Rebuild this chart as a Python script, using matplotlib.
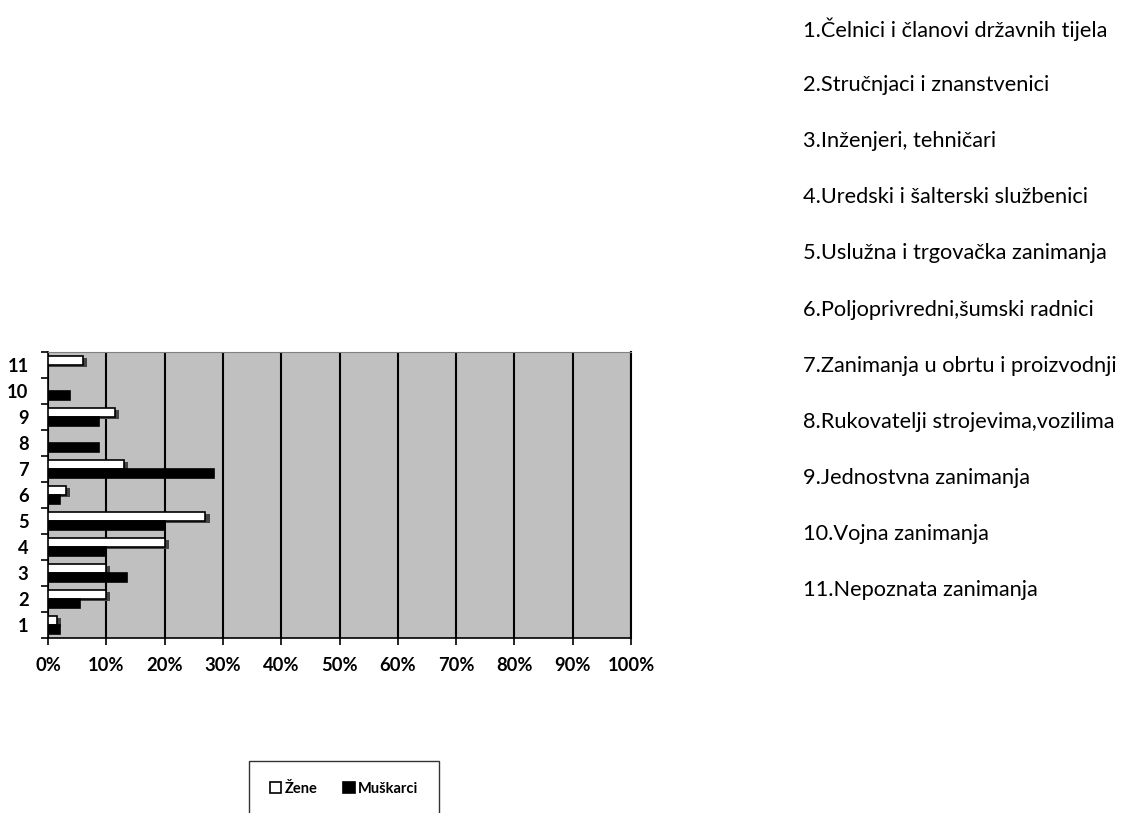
import numpy as np
import matplotlib.pyplot as plt
from matplotlib.ticker import FixedLocator, PercentFormatter

categories = ['1', '2', '3', '4', '5', '6', '7', '8', '9', '10', '11']
zene = [1.5, 10.0, 10.0, 20.0, 27.0, 3.0, 13.0, 0.0, 11.5, 0.0, 6.0]
muskarci = [2.0, 5.4, 13.5, 10.0, 20.0, 2.0, 28.5, 8.7, 8.7, 3.7, 0.0]
occupations = [
    '1.Čelnici i članovi državnih tijela',
    '2.Stručnjaci i znanstvenici',
    '3.Inženjeri, tehničari',
    '4.Uredski i šalterski službenici',
    '5.Uslužna i trgovačka zanimanja',
    '6.Poljoprivredni,šumski radnici',
    '7.Zanimanja u obrtu i proizvodnji',
    '8.Rukovatelji strojevima,vozilima',
    '9.Jednostvna zanimanja',
    '10.Vojna zanimanja',
    '11.Nepoznata zanimanja',
]

plt.rcParams['font.family'] = ['Lato', 'DejaVu Sans']

fig = plt.figure(figsize=(11.28, 8.13), dpi=100)
renderer = fig.canvas.get_renderer()


def fit_size(text, width_px, weight='normal'):
    # font size that makes `text` about width_px wide
    t = fig.text(0, 0, text, fontsize=10, fontweight=weight)
    w = t.get_window_extent(renderer).width
    t.remove()
    return 10 * width_px / w


list_size = fit_size(occupations[0], 305)
tick_size = fit_size('100%', 47, 'bold')

ax = fig.add_axes([0.0426, 0.2153, 0.5168, 0.3517])
ax.set_facecolor('#c0c0c0')

y = np.arange(1, len(categories) + 1)
h = 0.34
# dark shadow behind the white bars, fakes the 3D look
ax.barh(y + h / 2 - 0.06, np.array(zene) + 0.7 * (np.array(zene) > 0), height=h,
        color='#444444', zorder=2)
bz = ax.barh(y + h / 2, zene, height=h, color='white', edgecolor='black',
             linewidth=1.2, zorder=3, label='Žene')
bm = ax.barh(y - h / 2, muskarci, height=h, color='black', edgecolor='black',
             linewidth=1.2, zorder=3, label='Muškarci')

ax.set_xlim(0, 100)
ax.set_ylim(0.5, len(categories) + 0.5)
ax.set_xticks(np.arange(0, 101, 10))
ax.xaxis.set_major_formatter(PercentFormatter(decimals=0))
ax.grid(axis='x', color='black', linewidth=1.5, zorder=1)
ax.set_axisbelow(True)

ax.yaxis.set_major_locator(FixedLocator(np.arange(0.5, len(categories) + 1, 1)))
ax.yaxis.set_minor_locator(FixedLocator(y))
ax.set_yticklabels([])
ax.set_yticklabels(categories, minor=True)
ax.tick_params(axis='y', which='minor', length=0, pad=14)
ax.tick_params(axis='y', which='major', length=5, width=1.2, direction='out')
ax.tick_params(axis='x', length=5, width=1.2, pad=9)
for lab in ax.get_xticklabels() + ax.get_yticklabels(minor=True):
    lab.set_fontweight('bold')
    lab.set_fontsize(tick_size)

for s in ['left', 'bottom']:
    ax.spines[s].set_color('black')
    ax.spines[s].set_linewidth(1.2)
ax.spines['top'].set_color('#808080')
ax.spines['right'].set_color('black')
ax.spines['right'].set_linewidth(1.5)

for i, txt in enumerate(occupations):
    fig.text(803 / 1128, 1 - (29 + i * 56.1) / 813, txt, fontsize=list_size,
             ha='left', va='center')

leg = fig.legend(handles=[bz, bm], labels=['Žene', 'Muškarci'], ncol=2,
                 loc='center', bbox_to_anchor=(0.305, 0.03), frameon=True,
                 fancybox=False, edgecolor='black', handlelength=0.8,
                 handleheight=0.8, handletextpad=0.2, columnspacing=1.8,
                 borderpad=1.4, prop={'weight': 'bold', 'size': 10.5})
leg.get_frame().set_linewidth(1.0)

fig.savefig('out.png', dpi=100)
